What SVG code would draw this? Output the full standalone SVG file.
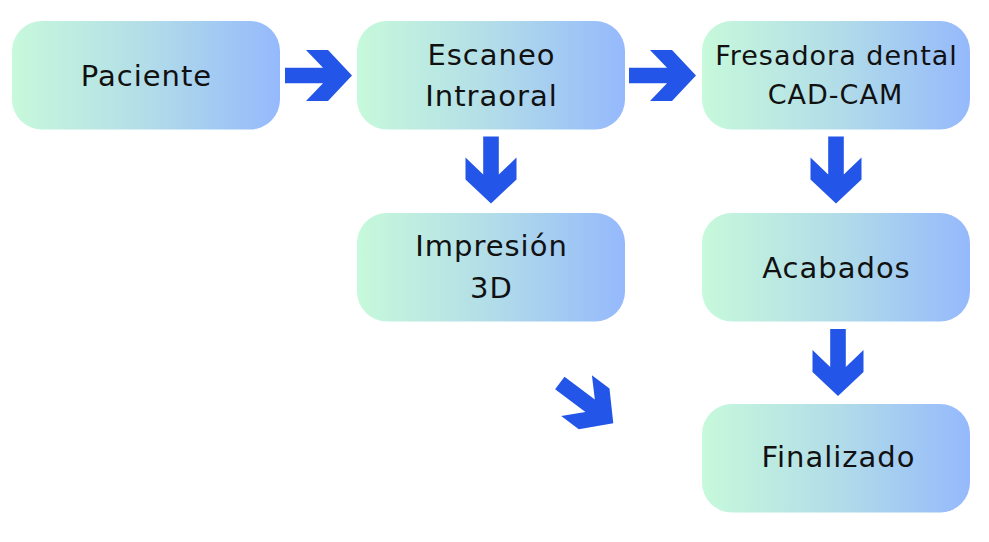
<svg xmlns="http://www.w3.org/2000/svg" width="989" height="542" viewBox="0 0 989 542">
<defs>
<linearGradient id="g" x1="0" y1="0" x2="1" y2="0">
<stop offset="0" stop-color="#c7f9db"/>
<stop offset="0.5" stop-color="#b2dde8"/>
<stop offset="1" stop-color="#95b9fc"/>
</linearGradient>
<polygon id="arr" points="-67,-7.8 -29,-7.8 -46,-25.5 -24,-25.5 0,0 -24,25.5 -46,25.5 -29,7.8 -67,7.8"/>
<style>
.box{fill:url(#g);}
.t{font-family:"DejaVu Sans","Open Sans",sans-serif;font-size:29px;letter-spacing:1px;fill:#111;text-anchor:middle;}
.s{font-size:27px;}
.a{fill:#2255e8;}
</style>
</defs>
<rect width="989" height="542" fill="#fff"/>
<g id="connectors" class="a">
<use href="#arr" transform="translate(352,75.5)"/>
<use href="#arr" transform="translate(696,75.5)"/>
<use href="#arr" transform="translate(491,203.5) rotate(90)"/>
<use href="#arr" transform="translate(836,203.5) rotate(90)"/>
<use href="#arr" transform="translate(838,396) rotate(90)"/>
<use href="#arr" transform="translate(613.3,423.3) rotate(37)"/>
</g>
<g id="paciente"><rect class="box" x="12" y="21" width="268" height="108.5" rx="30"/><text class="t" x="146.5" y="86">Paciente</text></g>
<g id="escaneo"><rect class="box" x="357" y="21" width="268" height="108.5" rx="30"/><text class="t" x="491.5" y="65">Escaneo</text><text class="t" x="491.5" y="106">Intraoral</text></g>
<g id="fresadora"><rect class="box" x="702" y="21" width="268" height="108.5" rx="30"/><text class="t s" x="836.5" y="65">Fresadora dental</text><text class="t s" x="835.5" y="104">CAD-CAM</text></g>
<g id="impresion"><rect class="box" x="357" y="213" width="268" height="108.5" rx="30"/><text class="t" x="491.5" y="256">Impresión</text><text class="t" x="491.5" y="298">3D</text></g>
<g id="acabados"><rect class="box" x="702" y="213" width="268" height="108.5" rx="30"/><text class="t" x="836.5" y="278">Acabados</text></g>
<g id="finalizado"><rect class="box" x="702" y="404" width="268" height="108.5" rx="30"/><text class="t" x="838.5" y="467">Finalizado</text></g>
</svg>
